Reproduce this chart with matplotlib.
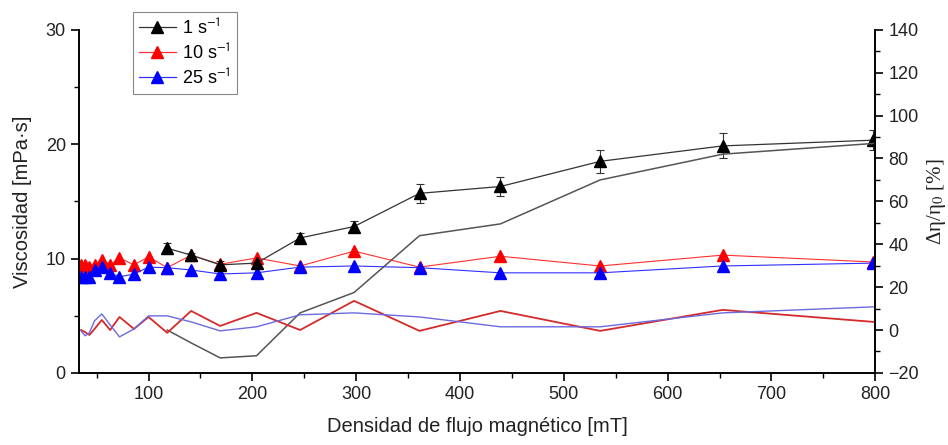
import numpy as np
import matplotlib
matplotlib.use("Agg")
import matplotlib.pyplot as plt
from matplotlib.ticker import MultipleLocator
from matplotlib.lines import Line2D

plt.rcParams['font.family'] = ['Liberation Sans', 'DejaVu Sans']
plt.rcParams['mathtext.fontset'] = 'stix'

# flux density [mT]
b_all = [35, 39, 43, 48, 55, 63, 72, 86, 100, 118, 141, 169, 204, 246, 298, 361, 439, 535, 653, 798]
b_1 = [118, 141, 169, 204, 246, 298, 361, 439, 535, 653, 798]

# viscosity [mPa s]
visc_1 = [10.9, 10.3, 9.45, 9.6, 11.8, 12.8, 15.7, 16.3, 18.5, 19.85, 20.35]
err_1 = [0.5, 0.2, 0.35, 0.3, 0.4, 0.5, 0.85, 0.8, 1.0, 1.1, 0.9]
visc_10 = [9.45, 9.45, 9.3, 9.45, 9.9, 9.45, 10.05, 9.45, 10.15, 9.2,
           10.3, 9.5, 10.05, 9.35, 10.65, 9.25, 10.2, 9.35, 10.3, 9.7]
visc_25 = [8.4, 8.4, 8.4, 9.0, 9.25, 8.75, 8.4, 8.65, 9.25, 9.2,
           9.0, 8.65, 8.75, 9.25, 9.35, 9.2, 8.75, 8.75, 9.35, 9.6]

# relative change [%]
rel_1 = [0, -6, -13, -12, 8, 17.5, 44, 49.5, 70, 82, 87]
rel_10 = [0, -1, -2.3, 0.5, 4.7, 0, 6.1, 0.5, 6.1, -1.3,
          8.9, 1.9, 8.0, 0, 13.6, -0.4, 8.9, -0.4, 9.4, 3.8]
rel_25 = [-0.4, -2.7, -1.3, 4.3, 7.5, 2.4, -3.2, 0.5, 6.6, 6.6,
          3.8, -0.4, 1.5, 7.1, 8.0, 6.1, 1.5, 1.5, 8.0, 10.8]

labels = [r'1 s$^{\mathsf{-1}}$', r'10 s$^{\mathsf{-1}}$', r'25 s$^{\mathsf{-1}}$']
colors = ['#333333', '#ff3030', '#3030ff']
marker_colors = ['black', '#ff0000', '#0000ff']

fig = plt.figure(figsize=(9.48, 4.45), dpi=100)
ax = fig.add_axes([0.0833, 0.162, 0.84, 0.771])
ax2 = ax.twinx()

ax.errorbar(b_1, visc_1, yerr=err_1, color=colors[0], lw=0.9, marker='^', ms=8,
            mfc=marker_colors[0], mec=marker_colors[0], ecolor='#333333', elinewidth=0.8,
            capsize=3, capthick=0.8)
ax.plot(b_all, visc_10, color=colors[1], lw=0.8, marker='^', ms=8,
        mfc=marker_colors[1], mec=marker_colors[1])
ax.plot(b_all, visc_25, color=colors[2], lw=0.8, marker='^', ms=8,
        mfc=marker_colors[2], mec=marker_colors[2])

ax2.plot(b_1, rel_1, color='#555555', lw=1.1)
ax2.plot(b_all, rel_10, color='#d42a2a', lw=1.3)
ax2.plot(b_all, rel_25, color='#6a6ae0', lw=1.0)

ax.set_xlim(33, 800)
ax.set_ylim(0, 30)
ax2.set_ylim(-20, 140)

ax.xaxis.set_major_locator(MultipleLocator(100))
ax.xaxis.set_minor_locator(MultipleLocator(50))
ax.yaxis.set_major_locator(MultipleLocator(10))
ax.yaxis.set_minor_locator(MultipleLocator(5))
ax2.yaxis.set_major_locator(MultipleLocator(20))
ax2.yaxis.set_minor_locator(MultipleLocator(10))

ax.spines['top'].set_visible(False)
ax2.spines['top'].set_visible(False)
for a in (ax, ax2):
    for s in a.spines.values():
        s.set_linewidth(1.2)
ax.tick_params(axis='both', which='major', direction='out', length=6, width=1.2,
               labelsize=13, labelcolor='#222222')
ax.tick_params(axis='both', which='minor', direction='out', length=3.5, width=1.0)
ax2.tick_params(axis='y', which='major', direction='out', length=6, width=1.2,
                labelsize=13, labelcolor='#222222')
ax2.tick_params(axis='y', which='minor', direction='out', length=3.5, width=1.0)

ax.set_xlabel('Densidad de flujo magnético [mT]', fontsize=14.5, labelpad=10, color='#222222')
ax.set_ylabel('Viscosidad [mPa·s]', fontsize=14.5, labelpad=10, color='#222222')
ax2.set_ylabel(r'Δη/η$_{\mathrm{0}}$ [%]', fontsize=15, labelpad=4,
               family='Liberation Serif', color='#222222')

handles = [Line2D([], [], color=c, lw=0.9, marker='^', ms=9, mfc=m, mec=m)
           for c, m in zip(colors, marker_colors)]
leg = ax.legend(handles=handles, labels=labels, loc='upper left',
                bbox_to_anchor=(0.068, 1.053), borderaxespad=0,
                fontsize=13, frameon=True, fancybox=False, framealpha=1,
                edgecolor='#888888', handlelength=2.0, handletextpad=0.35,
                borderpad=0.35, labelspacing=0.3)
leg.get_frame().set_linewidth(0.8)

fig.savefig('out.png', dpi=100)
